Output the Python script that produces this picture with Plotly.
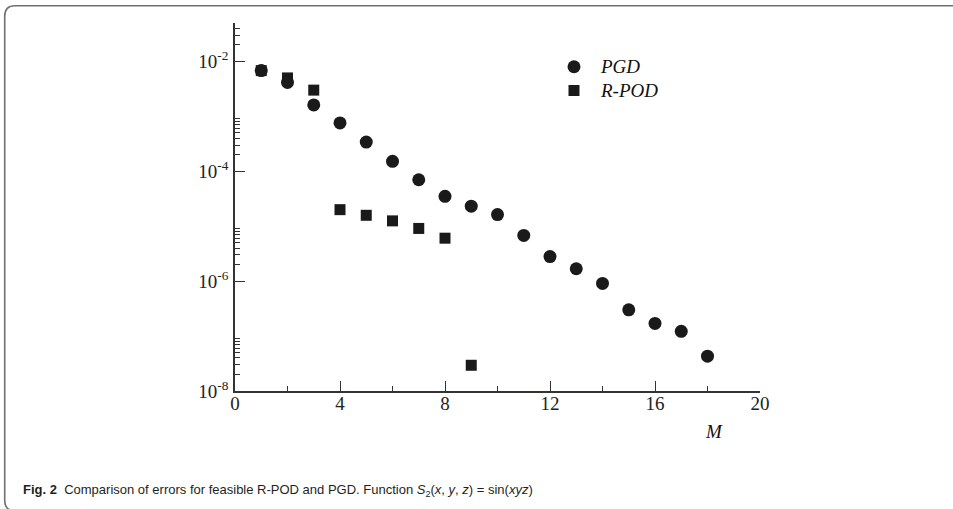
import plotly.graph_objects as go
import math

# ---- data ----
m_pgd = [1, 2, 3, 4, 5, 6, 7, 8, 9, 10, 11, 12, 13, 14, 15, 16, 17, 18]
err_pgd = [6.8e-3, 4.15e-3, 1.61e-3, 7.6e-4, 3.4e-4, 1.52e-4, 7.0e-5, 3.5e-5,
           2.31e-5, 1.63e-5, 6.8e-6, 2.8e-6, 1.68e-6, 9.1e-7, 3.0e-7, 1.70e-7,
           1.22e-7, 4.3e-8]
m_rpod = [1, 2, 3, 4, 5, 6, 7, 8, 9]
err_rpod = [6.8e-3, 5.0e-3, 3.0e-3, 2.0e-5, 1.58e-5, 1.25e-5, 9.1e-6, 6.05e-6, 2.94e-8]

x_ticks = [0, 4, 8, 12, 16, 20]
x_minor = [2, 6, 10, 14, 18]
y_major_exp = [-8, -6, -4, -2]
y_ticktext = ["10<sup>-8</sup>", "10<sup>-6</sup>", "10<sup>-4</sup>", "10<sup>-2</sup>"]

# ---- layout geometry ----
W, H = 953, 509
L, R_, T, B = 235, 760, 22.6, 391
y_top = 0.05

def px_x(p):
    return (p - L) / (R_ - L)

def px_y(p):
    return (B - p) / (B - T)

y_minor = []
for e in [-8, -6, -4]:
    y_minor += [k * 10 ** e for k in range(2, 10)]
y_minor += [k * 1e-2 for k in range(2, 6)]

serif = "Liberation Serif, Times New Roman, serif"
ink = "#1a1a1a"

fig = go.Figure()
fig.add_trace(go.Scatter(
    x=m_rpod, y=err_rpod, mode="markers",
    name='<span style="font-size:19px"><i>R-POD</i></span>', legendrank=2,
    marker=dict(symbol="square", size=11, color=ink, line=dict(width=0))))
fig.add_trace(go.Scatter(
    x=m_pgd, y=err_pgd, mode="markers",
    name='<span style="font-size:19px"><i>PGD</i></span>', legendrank=1,
    marker=dict(symbol="circle", size=13, color=ink, line=dict(width=0))))

axis_common = dict(showgrid=False, zeroline=False, showline=True,
                   linecolor="#333333", linewidth=1.5, ticks="inside",
                   ticklen=10, tickwidth=1, tickcolor="#333333",
                   tickfont=dict(family=serif, size=19, color="#222222"))

fig.update_xaxes(range=[0, 20], tickmode="array", tickvals=x_ticks,
                 ticklabelstandoff=-6,
                 minor=dict(tickvals=x_minor, ticks="inside", ticklen=5,
                            tickcolor="#333333", tickwidth=1),
                 **axis_common)
fig.update_yaxes(type="log", range=[-8, math.log10(y_top)], tickmode="array",
                 tickvals=[10 ** e for e in y_major_exp], ticktext=y_ticktext,
                 ticklabelstandoff=1,
                 minor=dict(tickvals=y_minor, ticks="inside", ticklen=5,
                            tickcolor="#333333", tickwidth=1),
                 **axis_common)

frame_path = ("M {x1},{y0} L {xa},{y0} Q {x0},{y0} {x0},{ya} "
              "L {x0},{yb} Q {x0},{y1} {xa},{y1} L {x1},{y1}").format(
    x0=px_x(4.7), x1=px_x(960), xa=px_x(15), y0=px_y(5.3), ya=px_y(16),
    yb=px_y(500), y1=px_y(511))

fig.update_layout(
    width=W, height=H,
    margin=dict(l=L, r=W - R_, t=T, b=H - B, pad=0),
    paper_bgcolor="white", plot_bgcolor="white",
    showlegend=True,
    legend=dict(x=px_x(547), y=px_y(49.5), xanchor="left", yanchor="top",
                bgcolor="rgba(0,0,0,0)", itemwidth=44,
                font=dict(family=serif, size=16, color="#111111"),
                tracegroupgap=0),
    shapes=[dict(type="path", xref="paper", yref="paper", path=frame_path,
                 line=dict(color="#707070", width=1.6), layer="below")],
    annotations=[
        dict(text="<i>M</i>", xref="paper", yref="paper", x=px_x(714), y=px_y(432),
             showarrow=False, xanchor="center", yanchor="middle",
             font=dict(family=serif, size=19, color="#111111")),
        dict(text="<b>Fig. 2</b>\u00a0\u00a0Comparison of errors for feasible R-POD and PGD. "
                  "Function <i>S</i><sub>2</sub>(<i>x</i>, <i>y</i>, <i>z</i>) = sin(<i>xyz</i>)",
             xref="paper", yref="paper", x=px_x(21), y=px_y(491),
             showarrow=False, xanchor="left", yanchor="middle",
             font=dict(family="Liberation Sans Narrow, Arial Narrow, Liberation Sans, sans-serif",
                       size=13, color="#231f20")),
    ],
)

fig.write_html("out.html", config={"displayModeBar": False},
               post_script="document.body.style.margin='0px';")
